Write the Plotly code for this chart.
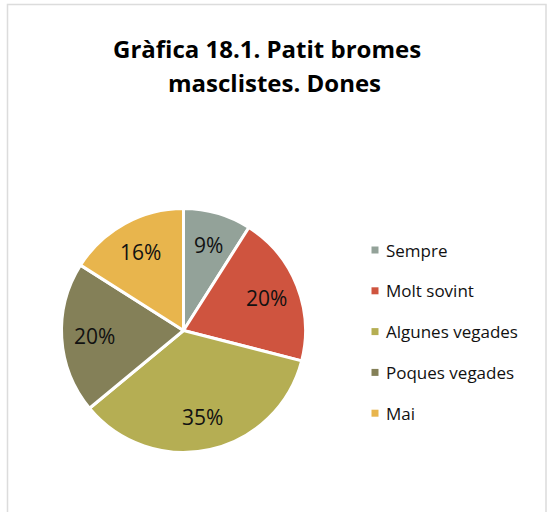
import math
import plotly.graph_objects as go

# Survey answers and their shares (%)
categories = ["Sempre", "Molt sovint", "Algunes vegades", "Poques vegades", "Mai"]
shares = [9, 20, 35, 20, 16]
colors = ["#93A299", "#CF543F", "#B5AE53", "#848058", "#E8B54D"]
title_lines = ["Gràfica 18.1. Patit bromes", "masclistes. Dones"]

W, H = 547, 512
FONT = "Open Sans"

cx, cy, r = 183.5, 330.5, 122.0  # pie centre and radius in pixels

fig = go.Figure(
    go.Pie(
        labels=categories,
        values=shares,
        sort=False,
        direction="clockwise",
        rotation=0,
        marker=dict(colors=colors, line=dict(color="white", width=3)),
        textinfo="none",
        hoverinfo="label+percent",
        showlegend=False,
        domain=dict(
            x=[(cx - r) / W, (cx + r) / W],
            y=[(H - cy - r) / H, (H - cy + r) / H],
        ),
    )
)

# chart frame
shapes = [
    dict(
        type="rect", xref="paper", yref="paper",
        x0=7.5 / W, x1=546 / W, y0=-0.05, y1=1 - 4.5 / H,
        line=dict(color="#DCDCDC", width=1.5), fillcolor="rgba(0,0,0,0)",
    )
]

# two-line bold title
annotations = []
for (tx, ty), line in zip([(267, 48), (274, 82)], title_lines):
    annotations.append(dict(
        text=f"<b>{line}</b>", xref="paper", yref="paper",
        x=tx / W, y=1 - ty / H, xanchor="center", yanchor="middle",
        showarrow=False, font=dict(family=FONT, size=24, color="#000000"),
    ))

# percentage labels placed along each slice's bisector
total = sum(shares)
cum = 0.0
label_r = 0.73 * r
for v in shares:
    mid = (cum + v / 2) / total * 2 * math.pi  # clockwise from 12 o'clock
    cum += v
    lx = cx + label_r * math.sin(mid)
    ly = cy - label_r * math.cos(mid)
    annotations.append(dict(
        text=f"{v}%", xref="paper", yref="paper",
        x=lx / W, y=1 - ly / H, xanchor="center", yanchor="middle",
        showarrow=False, font=dict(family=FONT, size=21, color="#111111"),
    ))

# legend entries: small colour square plus label
leg_x, leg_y0, leg_dy, sq = 375.0, 250.0, 40.8, 7.0
for i, (name, col) in enumerate(zip(categories, colors)):
    y = leg_y0 + i * leg_dy
    shapes.append(dict(
        type="rect", xref="paper", yref="paper",
        x0=(leg_x - sq / 2) / W, x1=(leg_x + sq / 2) / W,
        y0=1 - (y + sq / 2) / H, y1=1 - (y - sq / 2) / H,
        line=dict(width=0), fillcolor=col,
    ))
    annotations.append(dict(
        text=name, xref="paper", yref="paper",
        x=(leg_x + 9) / W, y=1 - y / H,
        xanchor="left", yanchor="middle", showarrow=False,
        font=dict(family=FONT, size=17, color="#111111"),
    ))

fig.update_layout(
    width=W, height=H,
    margin=dict(l=0, r=0, t=0, b=0),
    paper_bgcolor="white",
    plot_bgcolor="white",
    shapes=shapes,
    annotations=annotations,
)

fig.write_html("out.html")
